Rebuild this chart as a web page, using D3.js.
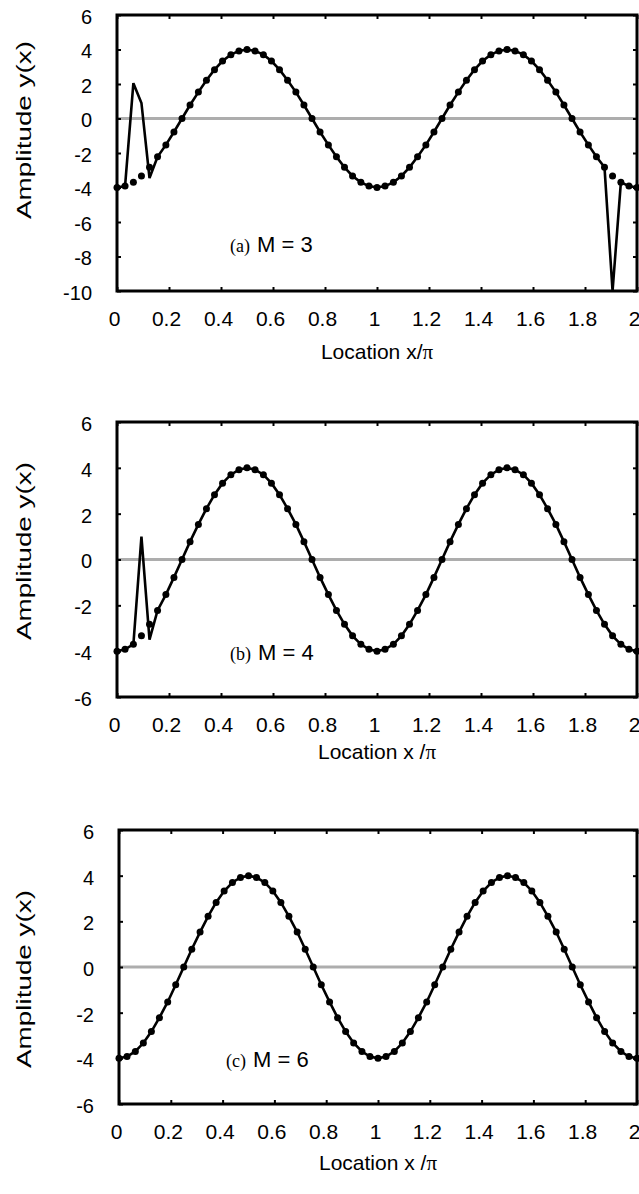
<!DOCTYPE html>
<html>
<head>
<meta charset="utf-8">
<script src="https://cdn.jsdelivr.net/npm/d3@7/dist/d3.min.js"></script>
<style>
  body { margin: 0; background: #fff; }
  .tick text { font-family: "Liberation Sans", Arial, sans-serif; fill: #000; }
</style>
</head>
<body>
<svg id="chart" width="639" height="1194"></svg>
<script>
// sample locations x/pi (64 intervals over 0..2)
const locX = [0, 0.031, 0.063, 0.094, 0.125, 0.156, 0.188, 0.219, 0.25, 0.281, 0.313, 0.344, 0.375, 0.406, 0.438, 0.469,
  0.5, 0.531, 0.563, 0.594, 0.625, 0.656, 0.688, 0.719, 0.75, 0.781, 0.813, 0.844, 0.875, 0.906, 0.938, 0.969,
  1, 1.031, 1.063, 1.094, 1.125, 1.156, 1.188, 1.219, 1.25, 1.281, 1.313, 1.344, 1.375, 1.406, 1.438, 1.469,
  1.5, 1.531, 1.563, 1.594, 1.625, 1.656, 1.688, 1.719, 1.75, 1.781, 1.813, 1.844, 1.875, 1.906, 1.938, 1.969, 2]

// dots: exact amplitude
const exactY = [-4.00, -3.92, -3.70, -3.33, -2.83, -2.22, -1.53, -0.78, 0.00, 0.78, 1.53, 2.22, 2.83, 3.33, 3.70, 3.92,
  4.00, 3.92, 3.70, 3.33, 2.83, 2.22, 1.53, 0.78, 0.00, -0.78, -1.53, -2.22, -2.83, -3.33, -3.70, -3.92,
  -4.00, -3.92, -3.70, -3.33, -2.83, -2.22, -1.53, -0.78, 0.00, 0.78, 1.53, 2.22, 2.83, 3.33, 3.70, 3.92,
  4.00, 3.92, 3.70, 3.33, 2.83, 2.22, 1.53, 0.78, 0.00, -0.78, -1.53, -2.22, -2.83, -3.33, -3.70, -3.92, -4.00]

// solid lines: computed amplitude for M = 3, 4, 6
const lineM3 = [-4.00, -3.92, 2.05, 0.90, -3.45, -2.22, -1.53, -0.78, 0.00, 0.78, 1.53, 2.22, 2.83, 3.33, 3.70, 3.92,
  4.00, 3.92, 3.70, 3.33, 2.83, 2.22, 1.53, 0.78, 0.00, -0.78, -1.53, -2.22, -2.83, -3.33, -3.70, -3.92,
  -4.00, -3.92, -3.70, -3.33, -2.83, -2.22, -1.53, -0.78, 0.00, 0.78, 1.53, 2.22, 2.83, 3.33, 3.70, 3.92,
  4.00, 3.92, 3.70, 3.33, 2.83, 2.22, 1.53, 0.78, 0.00, -0.78, -1.53, -2.22, -2.83, -10.00, -3.70, -3.92, -4.00]
const lineM4 = [-4.00, -3.92, -3.70, 1.00, -3.50, -2.22, -1.53, -0.78, 0.00, 0.78, 1.53, 2.22, 2.83, 3.33, 3.70, 3.92,
  4.00, 3.92, 3.70, 3.33, 2.83, 2.22, 1.53, 0.78, 0.00, -0.78, -1.53, -2.22, -2.83, -3.33, -3.70, -3.92,
  -4.00, -3.92, -3.70, -3.33, -2.83, -2.22, -1.53, -0.78, 0.00, 0.78, 1.53, 2.22, 2.83, 3.33, 3.70, 3.92,
  4.00, 3.92, 3.70, 3.33, 2.83, 2.22, 1.53, 0.78, 0.00, -0.78, -1.53, -2.22, -2.83, -3.33, -3.70, -3.92, -4.00]
const lineM6 = [-4.00, -3.92, -3.70, -3.33, -2.83, -2.22, -1.53, -0.78, 0.00, 0.78, 1.53, 2.22, 2.83, 3.33, 3.70, 3.92,
  4.00, 3.92, 3.70, 3.33, 2.83, 2.22, 1.53, 0.78, 0.00, -0.78, -1.53, -2.22, -2.83, -3.33, -3.70, -3.92,
  -4.00, -3.92, -3.70, -3.33, -2.83, -2.22, -1.53, -0.78, 0.00, 0.78, 1.53, 2.22, 2.83, 3.33, 3.70, 3.92,
  4.00, 3.92, 3.70, 3.33, 2.83, 2.22, 1.53, 0.78, 0.00, -0.78, -1.53, -2.22, -2.83, -3.33, -3.70, -3.92, -4.00]

const xTicks = [0, 0.2, 0.4, 0.6, 0.8, 1, 1.2, 1.4, 1.6, 1.8, 2]
const yTicksA = [6, 4, 2, 0, -2, -4, -6, -8, -10]
const yTicksBC = [6, 4, 2, 0, -2, -4, -6]
const tags = ['(a)', '(b)', '(c)']
const mLabels = ['M = 3', 'M = 4', 'M = 6']
const xTitles = ['Location x/', 'Location x /', 'Location x /']

const sans = '"Liberation Sans", Arial, Helvetica, sans-serif'
const serif = '"Liberation Serif", "Times New Roman", serif'

// layout of the three stacked panels
const panels = [
  { left: 117, right: 637, top: 15, bottom: 291, yDomain: [-10, 6], yTicks: yTicksA, line: lineM3,
    titleY: 130, tagX: 230, tagY: 252, xTitleY: 359 },
  { left: 117, right: 637, top: 422, bottom: 697, yDomain: [-6, 6], yTicks: yTicksBC, line: lineM4,
    titleY: 551, tagX: 230, tagY: 660, xTitleY: 759 },
  { left: 119, right: 637, top: 830, bottom: 1104, yDomain: [-6, 6], yTicks: yTicksBC, line: lineM6,
    titleY: 979, tagX: 226, tagY: 1067, xTitleY: 1170 }
]

// plain hyphen for negatives, like the original
const fmt = d => String(d)

const svg = d3.select('#chart')
svg.append('rect').attr('width', 639).attr('height', 1194).attr('fill', '#fff')

panels.forEach((p, i) => {
  const g = svg.append('g')
  const x = d3.scaleLinear().domain([0, 2]).range([p.left, p.right])
  const y = d3.scaleLinear().domain(p.yDomain).range([p.bottom, p.top])

  // grey zero line
  g.append('line')
    .attr('x1', x(0)).attr('x2', x(2))
    .attr('y1', y(0)).attr('y2', y(0))
    .attr('stroke', '#adadad')
    .attr('stroke-width', 2.8)

  // exact values as dots
  g.selectAll('.dot')
    .data(locX.map((v, k) => ({ x: v, y: exactY[k] })))
    .enter()
    .append('circle')
    .attr('class', 'dot')
    .attr('cx', d => x(d.x))
    .attr('cy', d => y(d.y))
    .attr('r', 3.5)
    .attr('fill', '#000')

  // approximation as solid line
  g.append('path')
    .datum(locX.map((v, k) => ({ x: v, y: p.line[k] })))
    .attr('fill', 'none')
    .attr('stroke', '#000')
    .attr('stroke-width', 2.6)
    .attr('stroke-linejoin', 'miter')
    .attr('d', d3.line().x(d => x(d.x)).y(d => y(d.y)))

  // axes, ticks pointing inwards
  const bottomAxis = g.append('g')
    .attr('transform', `translate(0,${p.bottom})`)
    .call(d3.axisBottom(x).tickValues(xTicks).tickFormat(fmt)
      .tickSizeInner(-4).tickSizeOuter(0).tickPadding(20))
  bottomAxis.selectAll('text').attr('font-size', 21).attr('font-family', sans).attr('dx', -3)

  g.append('g')
    .attr('transform', `translate(0,${p.top})`)
    .call(d3.axisTop(x).tickValues(xTicks).tickFormat('').tickSizeInner(-4).tickSizeOuter(0))

  const leftAxis = g.append('g')
    .attr('transform', `translate(${p.left},0)`)
    .call(d3.axisLeft(y).tickValues(p.yTicks).tickFormat(fmt)
      .tickSizeInner(-4).tickSizeOuter(0).tickPadding(25))
  leftAxis.selectAll('text').attr('font-size', 20).attr('font-family', sans).attr('dy', '0.42em')

  g.append('g')
    .attr('transform', `translate(${p.right},0)`)
    .call(d3.axisRight(y).tickValues(p.yTicks).tickFormat('').tickSizeInner(-4).tickSizeOuter(0))

  g.selectAll('.domain').remove()
  g.selectAll('.tick line').attr('stroke', '#000').attr('stroke-width', 2)

  // frame
  g.append('rect')
    .attr('x', p.left).attr('y', p.top)
    .attr('width', p.right - p.left).attr('height', p.bottom - p.top)
    .attr('fill', 'none')
    .attr('stroke', '#000')
    .attr('stroke-width', 3)

  // axis titles
  g.append('text')
    .attr('transform', `translate(31,${p.titleY}) rotate(-90)`)
    .attr('text-anchor', 'middle')
    .attr('font-family', sans)
    .attr('font-size', 20)
    .attr('textLength', 178)
    .attr('lengthAdjust', 'spacingAndGlyphs')
    .text('Amplitude y(x)')

  const xt = g.append('text')
    .attr('x', (p.left + p.right) / 2)
    .attr('y', p.xTitleY)
    .attr('text-anchor', 'middle')
    .attr('font-family', sans)
    .attr('font-size', 21)
  xt.append('tspan').text(xTitles[i])
  xt.append('tspan').attr('font-family', serif).attr('font-size', 21).text('\u03c0')

  // panel annotation
  const tag = g.append('text')
    .attr('x', p.tagX)
    .attr('y', p.tagY)
    .attr('font-family', sans)
    .attr('font-size', 22)
  tag.append('tspan').attr('font-family', serif).attr('font-size', 18).text(tags[i])
  tag.append('tspan').attr('dx', 7).text(mLabels[i])
})
</script>
</body>
</html>
